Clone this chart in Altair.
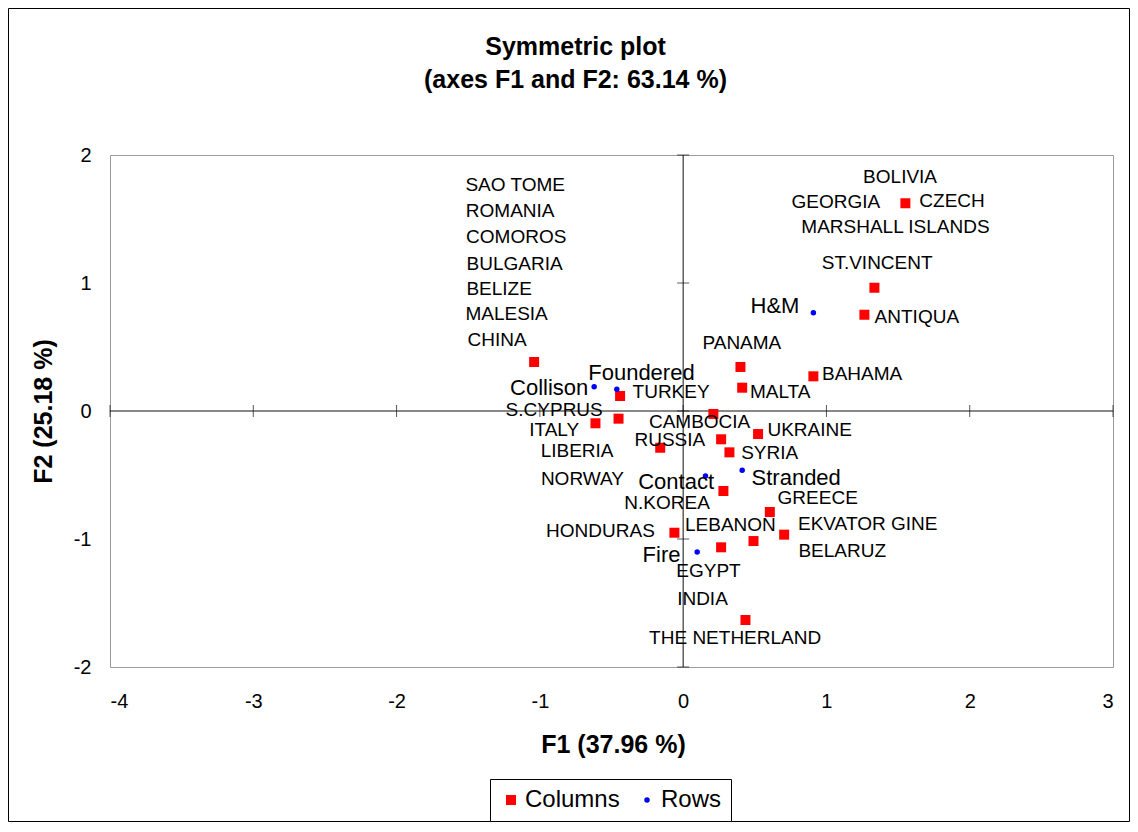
import altair as alt
import pandas as pd

# ---- Column points (countries, red squares) ----
col_names = ["CHINA", "TURKEY", "ITALY", "S.CYPRUS", "LIBERIA", "CAMBOCIA", "RUSSIA", "SYRIA",
             "UKRAINE", "N.KOREA", "GREECE", "EKVATOR GINE", "LEBANON", "EGYPT", "HONDURAS",
             "THE NETHERLAND", "CZECH", "ST.VINCENT", "ANTIQUA", "PANAMA", "MALTA", "BAHAMA"]
col_f1 = [-1.040, -0.440, -0.612, -0.451, -0.160, 0.211, 0.265, 0.323,
          0.523, 0.281, 0.605, 0.705, 0.491, 0.265, -0.061,
          0.435, 1.551, 1.335, 1.265, 0.400, 0.412, 0.909]
col_f2 = [0.383, 0.117, -0.096, -0.060, -0.287, -0.023, -0.221, -0.323,
          -0.180, -0.625, -0.789, -0.966, -1.016, -1.065, -0.951,
          -1.633, 1.623, 0.963, 0.752, 0.344, 0.182, 0.271]

# ---- Row points (accident types, blue dots) ----
row_names = ["Collison", "Foundered", "Contact", "Stranded", "Fire", "H&M"]
row_f1 = [-0.621, -0.463, 0.156, 0.412, 0.098, 0.909]
row_f2 = [0.190, 0.170, -0.508, -0.463, -1.102, 0.768]

# ---- Column label texts and their positions (as placed in the picture) ----
col_label_text = ["SAO TOME", "ROMANIA", "COMOROS", "BULGARIA", "BELIZE", "MALESIA", "CHINA",
                  "TURKEY", "S.CYPRUS", "ITALY", "LIBERIA", "NORWAY", "RUSSIA", "CAMBOCIA",
                  "UKRAINE", "SYRIA", "N.KOREA", "GREECE", "HONDURAS", "LEBANON", "EKVATOR GINE",
                  "BELARUZ", "EGYPT", "INDIA", "THE NETHERLAND", "BOLIVIA", "GEORGIA", "CZECH",
                  "MARSHALL ISLANDS", "ST.VINCENT", "ANTIQUA", "PANAMA", "MALTA", "BAHAMA"]
col_label_f1 = [-1.172, -1.207, -1.165, -1.176, -1.284, -1.232, -1.298,
                -0.084, -0.900, -0.900, -0.740, -0.703, -0.093, 0.115,
                0.883, 0.604, -0.112, 0.939, -0.577, 0.330, 1.288,
                1.110, 0.177, 0.135, 0.363, 1.514, 1.066, 1.877,
                1.482, 1.354, 1.631, 0.410, 0.677, 1.249]
col_label_f2 = [1.766, 1.5625, 1.359, 1.152, 0.953, 0.758, 0.555,
                0.148, 0.004, -0.145, -0.3125, -0.531, -0.227, -0.086,
                -0.148, -0.328, -0.715, -0.680, -0.934, -0.891, -0.883,
                -1.094, -1.250, -1.465, -1.773, 1.832, 1.635, 1.641,
                1.4375, 1.154, 0.734, 0.529, 0.148, 0.289]

row_label_text = ["Collison", "Foundered", "Contact", "Stranded", "Fire", "H&M"]
row_label_f1 = [-0.935, -0.291, -0.049, 0.789, -0.151, 0.641]
row_label_f2 = [0.180, 0.297, -0.551, -0.523, -1.125, 0.824]

x_ticks = [-4, -3, -2, -1, 0, 1, 2, 3]
y_ticks = [-2, -1, 0, 1, 2]

FONT = "Liberation Sans"
W, H = 1003, 512
PAD = {"left": 102, "top": 147, "right": 17, "bottom": 155}

points = pd.concat([
    pd.DataFrame({"name": col_names, "F1": col_f1, "F2": col_f2, "type": "Columns"}),
    pd.DataFrame({"name": row_names, "F1": row_f1, "F2": row_f2, "type": "Rows"}),
], ignore_index=True)
col_labels = pd.DataFrame({"text": col_label_text, "F1": col_label_f1, "F2": col_label_f2})
row_labels = pd.DataFrame({"text": row_label_text, "F1": row_label_f1, "F2": row_label_f2})
xt = pd.DataFrame({"F1": x_ticks, "F2": 0})
yt = pd.DataFrame({"F1": 0, "F2": y_ticks})

xscale = alt.Scale(domain=[-4, 3], nice=False, zero=False)
yscale = alt.Scale(domain=[-2, 2], nice=False, zero=False)

x_axis = alt.Axis(values=x_ticks, grid=False, domain=False, ticks=False, labelFont=FONT,
                  labelFontSize=20, labelColor="black", labelBaseline="middle", labelPadding=34,
                  labelExpr="'' + datum.value",
                  title="F1 (37.96 %)", titleFont=FONT, titleFontSize=25, titleFontWeight="bold",
                  titleColor="black", titleX=503, titleY=77, titleAlign="center",
                  titleBaseline="middle")
y_axis = alt.Axis(values=y_ticks, grid=False, domain=False, ticks=False, labelFont=FONT,
                  labelFontSize=20, labelColor="black", labelPadding=19,
                  labelExpr="'' + datum.value",
                  title="F2 (25.18 %)", titleFont=FONT, titleFontSize=25, titleFontWeight="bold",
                  titleColor="black", titleX=-67, titleY=256, titleAlign="center",
                  titleBaseline="middle", titleAngle=270)

border = alt.Chart(pd.DataFrame({"k": [0]})).mark_rect(
    fill=None, stroke="black", strokeWidth=1
).encode(
    x=alt.value(-101.5), x2=alt.value(W + PAD["right"] - 0.5),
    y=alt.value(-146.5), y2=alt.value(H + PAD["bottom"] - 0.5)
)

zero_v = alt.Chart(pd.DataFrame({"k": [0]})).mark_rule(color="#111111", strokeWidth=1).encode(
    x=alt.datum(0, scale=xscale, axis=x_axis)
)
zero_h = alt.Chart(pd.DataFrame({"k": [0]})).mark_rule(color="#111111", strokeWidth=1).encode(
    y=alt.datum(0, scale=yscale, axis=y_axis)
)

xtick_marks = alt.Chart(xt).mark_tick(orient="vertical", size=12, thickness=1, color="#111111").encode(
    x=alt.X("F1:Q", scale=xscale, axis=x_axis), y=alt.Y("F2:Q", scale=yscale, axis=y_axis)
)
ytick_marks = alt.Chart(yt).mark_tick(orient="horizontal", size=12, thickness=1, color="#111111").encode(
    x=alt.X("F1:Q", scale=xscale, axis=x_axis), y=alt.Y("F2:Q", scale=yscale, axis=y_axis)
)

legend = alt.Legend(orient="none", legendX=380, legendY=624, direction="horizontal",
                    labelFont=FONT, labelFontSize=24, labelColor="black",
                    strokeColor="black", fillColor="white", padding=9,
                    columnPadding=15, labelOffset=2, symbolStrokeWidth=0)

pts = alt.Chart(points).mark_point(filled=True, opacity=1).encode(
    x=alt.X("F1:Q", scale=xscale, axis=x_axis),
    y=alt.Y("F2:Q", scale=yscale, axis=y_axis),
    color=alt.Color("type:N", title=None,
                    scale=alt.Scale(domain=["Columns", "Rows"], range=["#ff0000", "#0000ff"]),
                    legend=legend),
    shape=alt.Shape("type:N", title=None,
                    scale=alt.Scale(domain=["Columns", "Rows"], range=["square", "circle"]),
                    legend=legend),
    size=alt.Size("type:N", title=None,
                  scale=alt.Scale(domain=["Columns", "Rows"], range=[100, 30]),
                  legend=legend),
)

col_text = alt.Chart(col_labels).mark_text(
    font=FONT, fontSize=19, align="center", baseline="middle", color="black"
).encode(
    x=alt.X("F1:Q", scale=xscale, axis=x_axis),
    y=alt.Y("F2:Q", scale=yscale, axis=y_axis),
    text="text:N",
)
row_text = alt.Chart(row_labels).mark_text(
    font=FONT, fontSize=22, align="center", baseline="middle", color="black"
).encode(
    x=alt.X("F1:Q", scale=xscale, axis=x_axis),
    y=alt.Y("F2:Q", scale=yscale, axis=y_axis),
    text="text:N",
)

chart = alt.layer(
    border, zero_v, zero_h, xtick_marks, ytick_marks, pts, col_text, row_text
).properties(
    width=W, height=H,
    title=alt.TitleParams(
        text=["Symmetric plot", "(axes F1 and F2: 63.14 %)"],
        font=FONT, fontSize=25, fontWeight="bold", color="black",
        lineHeight=33, anchor="middle", dx=-36, dy=85, offset=0,
    ),
    padding=PAD,
    autosize=alt.AutoSizeParams(type="none"),
    background="white",
).configure_view(
    stroke="#9a9a9a", strokeWidth=1
)

chart.save("out.html", embed_options={"renderer": "svg", "actions": False})
